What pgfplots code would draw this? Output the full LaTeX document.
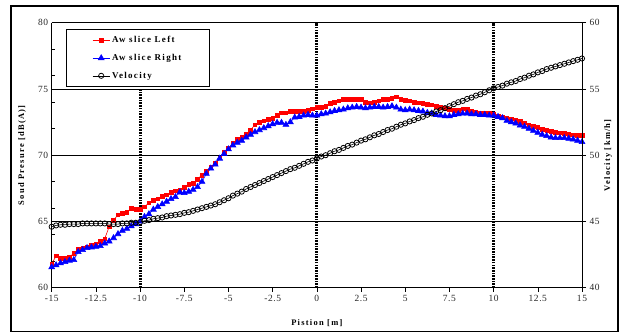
\documentclass[border=0pt]{standalone}
\usepackage{pgfplots}
\pgfplotsset{compat=1.18}
\usepackage{pgfplotstable}
\usepackage{fontspec}
\setmainfont{Liberation Serif}
\newfontfamily\lsfont[LetterSpace=15]{Liberation Serif}
\newfontfamily\tkfont[LetterSpace=6]{Liberation Serif}
\definecolor{myred}{RGB}{255,0,0}
\definecolor{myblue}{RGB}{0,0,255}

\pgfplotstableread{
x L R V
-15 61.8 61.55 44.6
-14.75 62.4 61.7 44.7
-14.5 62.2 61.85 44.75
-14.25 62.2 61.95 44.75
-14 62.3 62.05 44.8
-13.75 62.6 62.1 44.8
-13.5 62.9 62.7 44.8
-13.25 63.0 62.85 44.85
-13 63.1 63.0 44.85
-12.75 63.2 63.05 44.85
-12.5 63.3 63.1 44.85
-12.25 63.5 63.15 44.85
-12 63.7 63.35 44.85
-11.75 64.6 63.5 44.8
-11.5 65.1 63.75 44.8
-11.25 65.5 64.05 44.8
-11 65.6 64.3 44.85
-10.75 65.7 64.45 44.85
-10.5 66.0 64.65 44.9
-10.25 65.9 64.8 44.9
-10 65.9 65.0 44.95
-9.75 66.1 65.35 45.05
-9.5 66.4 65.55 45.1
-9.25 66.6 65.9 45.2
-9 66.7 66.1 45.25
-8.75 66.9 66.3 45.3
-8.5 67.0 66.5 45.4
-8.25 67.2 66.7 45.45
-8 67.3 66.85 45.5
-7.75 67.4 67.2 45.55
-7.5 67.6 67.15 45.65
-7.25 67.8 67.25 45.7
-7 67.9 67.4 45.8
-6.75 68.2 67.6 45.9
-6.5 68.5 68.0 46.0
-6.25 68.8 68.6 46.1
-6 69.1 69.0 46.2
-5.75 69.4 69.3 46.3
-5.5 69.8 69.75 46.45
-5.25 70.2 70.1 46.6
-5 70.5 70.45 46.75
-4.75 70.9 70.75 46.95
-4.5 71.2 70.95 47.1
-4.25 71.4 71.1 47.25
-4 71.6 71.35 47.45
-3.75 71.9 71.55 47.6
-3.5 72.3 71.75 47.75
-3.25 72.5 71.9 47.9
-3 72.6 72.05 48.05
-2.75 72.7 72.2 48.2
-2.5 72.8 72.35 48.35
-2.25 73.0 72.45 48.5
-2 73.2 72.45 48.65
-1.75 73.2 72.3 48.8
-1.5 73.3 72.5 48.95
-1.25 73.3 72.85 49.05
-1 73.3 72.9 49.2
-0.75 73.3 73.0 49.35
-0.5 73.4 73.05 49.5
-0.25 73.5 73.0 49.6
0 73.6 73.0 49.75
0.25 73.6 73.1 49.9
0.5 73.7 73.15 50.0
0.75 73.9 73.25 50.15
1 74.0 73.35 50.3
1.25 74.1 73.4 50.4
1.5 74.2 73.45 50.55
1.75 74.2 73.55 50.7
2 74.2 73.6 50.8
2.25 74.2 73.65 50.95
2.5 74.2 73.6 51.1
2.75 74.0 73.55 51.2
3 73.95 73.6 51.35
3.25 74.0 73.65 51.5
3.5 74.1 73.65 51.6
3.75 74.2 73.6 51.75
4 74.2 73.65 51.9
4.25 74.3 73.7 52.0
4.5 74.4 73.6 52.15
4.75 74.2 73.45 52.3
5 74.15 73.4 52.4
5.25 74.1 73.45 52.55
5.5 74.0 73.4 52.65
5.75 73.95 73.35 52.8
6 73.9 73.3 52.9
6.25 73.85 73.2 53.05
6.5 73.8 73.15 53.15
6.75 73.7 73.05 53.3
7 73.6 73.0 53.4
7.25 73.55 72.95 53.55
7.5 73.45 72.95 53.7
7.75 73.4 73.05 53.85
8 73.4 73.1 54.0
8.25 73.5 73.15 54.1
8.5 73.45 73.15 54.25
8.75 73.3 73.1 54.35
9 73.25 73.1 54.5
9.25 73.2 73.05 54.6
9.5 73.15 73.05 54.75
9.75 73.15 73.0 54.9
10 73.1 73.0 55.05
10.25 72.95 72.9 55.15
10.5 72.85 72.8 55.25
10.75 72.8 72.6 55.4
11 72.75 72.5 55.5
11.25 72.65 72.4 55.6
11.5 72.55 72.25 55.75
11.75 72.45 72.15 55.85
12 72.3 72.0 56.0
12.25 72.2 71.85 56.1
12.5 72.1 71.7 56.25
12.75 71.95 71.55 56.35
13 71.9 71.45 56.5
13.25 71.8 71.35 56.6
13.5 71.75 71.3 56.7
13.75 71.7 71.3 56.8
14 71.65 71.3 56.9
14.25 71.6 71.25 57.0
14.5 71.55 71.2 57.1
14.75 71.5 71.1 57.2
15 71.5 71.0 57.3
}\data

\begin{document}
\begin{tikzpicture}
\pgfplotsset{
  every axis/.append style={
    scale only axis, width=530.3bp, height=265bp,
    xmin=-15, xmax=15,
    /pgf/number format/assume math mode=true,
    tick label style={font=\tkfont\fontsize{9.5}{10}\selectfont, text=black!85},
    label style={font=\lsfont\bfseries\fontsize{8.5}{9}\selectfont},
    axis line style={line width=0.9pt},
  }
}
\begin{axis}[
  name=main,
  ymin=60, ymax=80,
  ytick={60,65,70,75,80},
  minor ytick={62,64,66,68,72,74,76,78},
  ymajorgrids, major grid style={black, line width=0.6pt},
  xtick={-15,-12.5,...,15},
  xticklabels={-15,-12.5,-10,-7.5,-5,-2.5,0,2.5,5,7.5,10,12.5,15},
  axis y line*=left,
  axis x line*=bottom,
  x axis line style={-}, y axis line style={-},
  xtick align=outside, ytick align=inside,
  major tick length=4bp, minor tick length=3bp,
  tick style={black, line width=0.6pt},
  xlabel={Pistion [m]},
  ylabel={Soud Presure [dB(A)]},
  xlabel style={at={(axis description cs:0.5,-0.133)}, anchor=center},
  ylabel style={at={(axis description cs:-0.056,0.5)}, anchor=center},
  legend style={at={(0.027,0.976)}, anchor=north west, draw=black, line width=0.8pt,
    fill=white, font=\lsfont\bfseries\fontsize{9}{10}\selectfont, row sep=6bp,
    inner xsep=26bp, inner ysep=5bp},
  legend cell align=left,
]
\draw[black, line width=3bp, dash pattern=on 1.6bp off 1.1bp] (axis cs:-10,60) -- (axis cs:-10,75);
\draw[black, line width=3bp, dash pattern=on 1.6bp off 1.1bp] (axis cs:0,60) -- (axis cs:0,80);
\draw[black, line width=3bp, dash pattern=on 1.6bp off 1.1bp] (axis cs:10,60) -- (axis cs:10,80);
\addplot[myred, line width=0.6pt, mark=square*, mark size=1.8bp, mark options={solid, fill=myred, draw=myred}] table[x=x, y=L] {\data};
\addlegendentry{Aw slice Left}
\addplot[myblue, line width=0.6pt, mark=triangle*, mark size=3.4bp, mark options={solid, fill=myblue, draw=myblue}] table[x=x, y=R] {\data};
\addlegendentry{Aw slice Right}
\addlegendimage{black, line width=0.6pt, mark=o, mark size=2.6bp, mark options={solid, fill=white, line width=0.8pt}}
\addlegendentry{Velocity}
\end{axis}
\begin{axis}[
  ymin=40, ymax=60,
  ytick={40,45,50,55,60},
  axis y line*=right,
  axis x line=none,
  ytick align=outside,
  major tick length=4bp,
  tick style={black, line width=0.6pt},
  ylabel={Velocity [km/h]},
  ylabel style={at={(axis description cs:1.049,0.5)}, anchor=center, rotate=0},
]
\addplot[black, line width=0.6pt, mark=o, mark size=2.6bp, mark options={solid, fill=white, line width=0.8pt}] table[x=x, y=V] {\data};
\end{axis}
\draw[line width=1.2bp] ([xshift=-40.7bp,yshift=-43.6bp]main.south west) rectangle ([xshift=36bp,yshift=16.7bp]main.north east);
\path[use as bounding box] ([xshift=-51.7bp,yshift=-44.3bp]main.south west) rectangle ([xshift=41bp,yshift=22.7bp]main.north east);
\end{tikzpicture}
\end{document}
